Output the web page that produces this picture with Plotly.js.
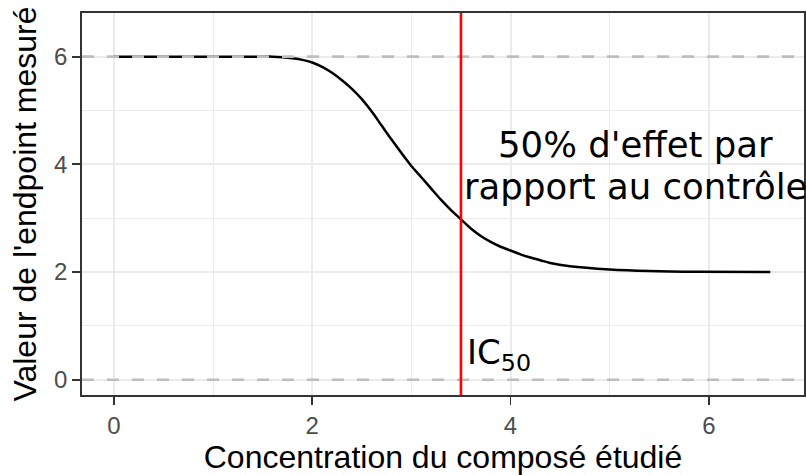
<!DOCTYPE html>
<html>
<head>
<meta charset="utf-8">
<script src="https://cdn.plot.ly/plotly-3.0.1.min.js"></script>
<style>html,body{margin:0;padding:0;background:#fff;}#chart{width:806px;height:475px;}</style>
</head>
<body>
<div id="chart"></div>
<script>
const concentration = [0, 0.5, 1.0, 1.5, 1.6, 1.7, 1.8, 1.9, 2.0, 2.1, 2.2, 2.3, 2.4, 2.5, 2.6, 2.7, 2.8, 2.9, 3.0, 3.1, 3.2, 3.3, 3.4, 3.5, 3.6, 3.7, 3.8, 3.9, 4.0, 4.1, 4.2, 4.3, 4.4, 4.6, 5.0, 5.4, 5.9, 6.62];
const endpoint      = [6, 6, 6, 6, 6, 5.99, 5.97, 5.94, 5.89, 5.81, 5.70, 5.56, 5.40, 5.21, 4.98, 4.72, 4.46, 4.21, 3.97, 3.76, 3.55, 3.34, 3.15, 2.98, 2.81, 2.67, 2.56, 2.47, 2.40, 2.33, 2.27, 2.22, 2.17, 2.11, 2.05, 2.02, 2.005, 2.00];
const ic50 = 3.5;
const referenceLevels = [0, 6];
const tickValues = [0, 2, 4, 6];
const annotationLines = ["50% d'effet par", "rapport au contrôle"];
const annotationX = 5.26;
const annotationY = [4.36, 3.58];
const icLabel = "IC<sub>50</sub>";
const icLabelPos = [3.54, 0.02];

const axisFont = {family: '"Liberation Sans", Arial, sans-serif', size: 24, color: '#4d4d4d'};
const titleFont = {family: '"Liberation Sans", Arial, sans-serif', size: 32, color: '#000'};
const textFont = {family: '"DejaVu Sans", sans-serif', size: 35.5, color: '#000'};
const icFont = {family: '"DejaVu Sans", sans-serif', size: 34, color: '#000'};

const traces = [{
  x: concentration, y: endpoint, type: 'scatter', mode: 'lines',
  line: {color: '#000', width: 2.5, shape: 'spline', smoothing: 1},
  hoverinfo: 'skip', showlegend: false
}];

const shapes = referenceLevels.map(v => ({
  type: 'line', xref: 'paper', x0: 0, x1: 1, yref: 'y', y0: v, y1: v,
  line: {color: '#bebebe', width: 2.6, dash: '12px,13px'}, layer: 'above'
}));
shapes.push({
  type: 'line', xref: 'x', x0: ic50, x1: ic50, yref: 'paper', y0: 0, y1: 1,
  line: {color: '#ff0000', width: 2.6}, layer: 'above'
});

const annotations = annotationLines.map((t, i) => ({
  x: annotationX, y: annotationY[i], xref: 'x', yref: 'y', text: t,
  showarrow: false, font: textFont, xanchor: 'center', yanchor: 'middle', align: 'center'
}));
annotations.push({x: icLabelPos[0], y: icLabelPos[1], xref: 'x', yref: 'y', text: icLabel,
  showarrow: false, font: icFont, xanchor: 'left', yanchor: 'bottom', align: 'left'});

const layout = {
  width: 806, height: 475,
  margin: {l: 82, r: 1.5, t: 12.5, b: 79.5},
  paper_bgcolor: '#fff', plot_bgcolor: '#fff',
  showlegend: false,
  xaxis: {
    range: [-0.322, 6.96], tickvals: tickValues, ticktext: tickValues.map(String),
    showgrid: true, gridcolor: '#ebebeb', gridwidth: 2,
    minor: {dtick: 1, tick0: 0, showgrid: true, gridcolor: '#ebebeb', gridwidth: 1},
    zeroline: false, showline: true, mirror: true, linecolor: '#333333', linewidth: 1.8,
    ticks: 'outside', ticklen: 8, tickwidth: 1.8, tickcolor: '#333333',
    tickfont: axisFont,
    title: {text: 'Concentration du composé étudié', font: titleFont, standoff: 5}
  },
  yaxis: {
    range: [-0.282, 6.81], tickvals: tickValues, ticktext: tickValues.map(String),
    showgrid: true, gridcolor: '#ebebeb', gridwidth: 2,
    minor: {dtick: 1, tick0: 0, showgrid: true, gridcolor: '#ebebeb', gridwidth: 1},
    zeroline: false, showline: true, mirror: true, linecolor: '#333333', linewidth: 1.8,
    ticks: 'outside', ticklen: 8, tickwidth: 1.8, tickcolor: '#333333',
    tickfont: axisFont,
    title: {text: "Valeur de l'endpoint mesuré", font: titleFont, standoff: 8}
  },
  shapes: shapes,
  annotations: annotations
};

Plotly.newPlot('chart', traces, layout, {staticPlot: true, displayModeBar: false});
</script>
</body>
</html>
